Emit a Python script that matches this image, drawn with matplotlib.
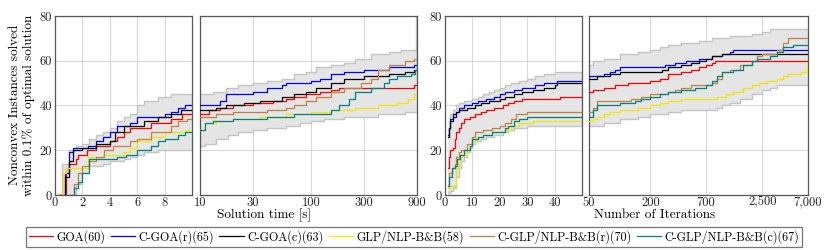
import numpy as np
import matplotlib
matplotlib.use("Agg")
import matplotlib.pyplot as plt
from matplotlib.lines import Line2D

plt.rcParams["font.family"] = ["cmr10", "DejaVu Serif"]
plt.rcParams["axes.formatter.use_mathtext"] = True

# ── data ──────────────────────────────────────────────────────────────────────
NAMES = ["GOA(60)", "C-GOA(r)(65)", "C-GOA(c)(63)", "GLP/NLP-B&B(58)",
         "C-GLP/NLP-B&B(r)(70)", "C-GLP/NLP-B&B(c)(67)"]
COLORS = ["#ff0000", "#0000ff", "#000000", "#f2e600", "#bf8040", "#008080"]

# panel 1: solution time 0-10 s
TIME_SHORT = {
    "GOA": ([0.2, 0.8, 1.0, 1.5, 1.7, 2.3, 3, 4, 4.5, 5, 5.5, 7, 8.5, 9.3, 10],
            [0, 12, 14, 16, 18, 20, 22, 24, 26, 28, 30, 32, 34, 36, 36]),
    "C-GOA(r)": ([0.4, 0.7, 1.0, 1.3, 2.4, 3, 3.5, 4, 4.5, 5.5, 6, 8, 8.5, 9, 9.5, 10],
                 [0, 10, 19, 21, 22, 24, 26, 28, 31, 32, 35, 36, 37, 39, 40, 40]),
    "C-GOA(c)": ([0.4, 0.7, 1.0, 1.3, 2, 3, 4, 4.4, 5, 6.5, 7.5, 8.5, 9.2, 10],
                 [0, 8, 15, 20, 21, 23, 24, 28, 31, 33, 35, 36, 38, 38]),
    "GLP": ([0.3, 0.6, 0.8, 2.2, 2.4, 3.5, 5, 5.5, 6, 7, 8, 9.5, 10],
            [0, 10, 12, 12, 17, 18, 19, 21, 24, 26, 28, 29, 29]),
    "C-GLP(r)": ([1.0, 1.4, 1.7, 2.0, 2.5, 3, 3.6, 4.2, 5.5, 6, 7, 8.5, 9, 9.6, 10],
                 [0, 5, 10, 13, 15, 17, 20, 22, 24, 25, 28, 31, 33, 34, 34]),
    "C-GLP(c)": ([1.1, 1.4, 1.7, 2.0, 2.5, 4.5, 5.2, 6, 7, 7.5, 8, 9, 9.5, 10],
                 [0, 3, 6, 10, 16, 17, 18, 20, 22, 24, 25, 27, 28, 28]),
}
TIME_SHORT_BAND = (
    [0.2, 0.5, 1.0, 1.5, 2, 2.5, 3, 3.5, 4, 4.5, 5, 5.5, 6, 6.5, 7.5, 8.5, 10],
    [0, 14, 20, 22, 23, 25, 27, 28, 30, 33, 35, 36, 40, 42, 44, 45, 45],   # upper
    [0, 0, 0, 5, 10, 13, 13, 14, 15, 15, 16, 17, 18, 19, 20, 20, 20],      # lower
)

# panel 2: solution time 10-900 s
TIME_LONG = {
    "GOA": ([10, 12, 15, 20, 30, 45, 60, 70, 90, 120, 150, 180, 850, 900],
            [36, 38, 39, 40, 41, 42, 43, 44, 45, 46, 47, 48, 49, 49]),
    "C-GOA(r)": ([10, 15, 17, 30, 40, 55, 60, 100, 120, 150, 200, 300, 500, 850, 900],
                 [40, 42, 45, 46, 48, 49, 50, 51, 52, 54, 55, 56, 57, 58, 58]),
    "C-GOA(c)": ([10, 14, 17, 25, 35, 55, 70, 90, 110, 150, 200, 300, 500, 700, 850, 900],
                 [38, 39, 40, 41, 42, 44, 45, 46, 48, 50, 52, 53, 54, 55, 56, 56]),
    "GLP": ([10, 11, 14, 20, 35, 60, 100, 150, 250, 400, 600, 750, 850, 900],
            [29, 32, 33, 34, 35, 36, 37, 38, 39, 40, 41, 43, 45, 45]),
    "C-GLP(r)": ([10, 14, 20, 40, 60, 70, 90, 110, 150, 200, 280, 350, 400, 500, 700, 850, 900],
                 [35, 36, 37, 38, 39, 40, 42, 44, 46, 48, 50, 52, 56, 58, 60, 61, 61]),
    "C-GLP(c)": ([10, 11, 13, 20, 40, 70, 150, 180, 220, 250, 350, 450, 500, 600, 800, 870, 895, 900],
                 [29, 32, 33, 34, 35, 36, 38, 40, 43, 46, 48, 50, 52, 53, 54, 56, 66, 66]),
}
TIME_LONG_BAND = (
    [10, 11, 13, 14, 17, 18, 22, 30, 40, 55, 60, 70, 80, 90, 100, 110, 130, 150, 200,
     250, 350, 400, 500, 650, 700, 890, 900],
    [45, 45, 46, 46, 48, 48, 49, 50, 51, 52, 52, 54, 54, 55, 55, 57, 57, 58, 59,
     61, 63, 63, 64, 65, 65, 80, 80],
    [22, 23, 23, 25, 25, 27, 28, 29, 30, 30, 31, 31, 32, 32, 33, 33, 34, 34, 35,
     35, 35, 36, 36, 36, 37, 37, 37],
)

# panel 3: iterations 0-50
ITER_SHORT = {
    "GOA": ([1, 1.5, 2, 3, 3.5, 4, 5, 6, 7, 9, 11, 13, 15, 18, 21, 23, 25, 28, 42, 50],
            [12, 17, 20, 21, 25, 28, 30, 32, 34, 35, 36, 37, 38, 39, 40, 41, 42, 43, 44, 44]),
    "C-GOA(r)": ([1, 1.5, 2, 3, 4, 5, 7, 10, 12, 15, 18, 20, 22, 25, 28, 33, 36, 41, 50],
                 [27, 30, 34, 35, 37, 39, 40, 41, 42, 43, 44, 45, 46, 47, 48, 49, 50, 51, 51]),
    "C-GOA(c)": ([1, 1.5, 2, 3, 4, 5, 8, 11, 13, 16, 20, 22, 25, 28, 32, 36, 40, 41, 50],
                 [26, 30, 33, 36, 37, 38, 39, 40, 41, 42, 43, 44, 45, 46, 47, 48, 49, 50, 50]),
    "GLP": ([1, 2, 3.5, 4, 5, 6, 8, 9, 10, 12, 14, 17, 22, 24, 27, 32, 50],
            [3, 4, 4, 12, 16, 18, 20, 22, 24, 26, 27, 28, 29, 31, 32, 33, 33]),
    "C-GLP(r)": ([1, 1.5, 2.5, 3.5, 4, 5, 6, 8, 10, 11, 14, 17, 20, 22, 24, 26, 30, 50],
                 [4, 10, 12, 14, 17, 19, 20, 23, 26, 28, 29, 30, 31, 32, 34, 36, 37, 37]),
    "C-GLP(c)": ([1, 1.5, 2.5, 3.5, 4.5, 5.5, 7, 9, 10, 12, 14, 17, 22, 23, 25, 27, 30, 50],
                 [4, 8, 12, 13, 16, 18, 20, 22, 25, 26, 27, 28, 30, 31, 33, 34, 35, 35]),
}
ITER_SHORT_BAND = (
    [1, 2, 3, 4, 5, 6, 7, 8, 9, 10, 11, 12, 13, 14, 15, 16, 18, 20, 21, 22, 23, 24,
     25, 27, 30, 33, 36, 40, 50],
    [29, 36, 38, 40, 41, 41, 42, 42, 42, 43, 43, 44, 44, 45, 45, 46, 47, 48, 48, 49, 49, 50,
     50, 51, 52, 53, 54, 55, 55],
    [1, 2, 3, 8, 12, 15, 17, 19, 21, 23, 24, 24, 25, 25, 26, 26, 27, 27, 28, 28, 29, 29,
     30, 30, 31, 31, 31, 31, 31],
)

# panel 4: iterations 50-7000
ITER_LONG = {
    "GOA": ([50, 55, 70, 90, 120, 200, 250, 300, 400, 500, 600, 700, 800, 850, 7000],
            [46, 47, 48, 49, 50, 51, 52, 54, 55, 56, 57, 58, 59, 60, 60]),
    "C-GOA(r)": ([50, 70, 80, 90, 100, 280, 350, 450, 600, 800, 1000, 1200, 1300, 7000],
                 [53, 54, 55, 56, 57, 58, 59, 60, 61, 62, 63, 64, 65, 65]),
    "C-GOA(c)": ([50, 60, 80, 100, 260, 300, 400, 500, 600, 700, 800, 1000, 7000],
                 [52, 53, 54, 55, 56, 57, 58, 59, 60, 61, 62, 63, 63]),
    "GLP": ([50, 55, 60, 70, 80, 100, 150, 200, 250, 300, 400, 900, 1100, 1300, 1600,
             2000, 2300, 2800, 3500, 4000, 4500, 6000, 6800, 7000],
            [33, 34, 35, 36, 37, 38, 39, 40, 41, 42, 43, 44, 45, 46, 48,
             49, 50, 51, 52, 53, 54, 55, 58, 58]),
    "C-GLP(r)": ([50, 55, 60, 130, 160, 200, 300, 350, 400, 500, 800, 900, 1000, 1200,
                  1500, 2000, 2200, 2500, 3500, 4000, 4500, 7000],
                 [37, 39, 42, 43, 44, 45, 46, 47, 48, 49, 50, 52, 55, 56,
                  58, 60, 62, 63, 65, 68, 70, 70]),
    "C-GLP(c)": ([50, 55, 60, 100, 140, 160, 200, 250, 300, 400, 550, 700, 800, 900, 1000,
                  1300, 1600, 2000, 2200, 3000, 3500, 4000, 5000, 7000],
                 [35, 38, 40, 41, 42, 43, 44, 45, 46, 47, 48, 49, 51, 53, 55,
                  56, 58, 60, 61, 62, 64, 66, 67, 67]),
}
ITER_LONG_BAND = (
    [50, 55, 70, 100, 150, 200, 250, 300, 400, 600, 800, 900, 1000, 1200, 1500, 2000,
     2500, 3000, 3500, 7000],
    [58, 60, 61, 63, 64, 65, 66, 67, 68, 69, 70, 70, 70, 71, 71, 72, 73, 74, 74, 74],
    [31, 31, 32, 34, 35, 36, 36, 37, 38, 38, 38, 39, 40, 41, 43, 45, 47, 48, 49, 49],
)

PANELS = [
    (TIME_SHORT, TIME_SHORT_BAND, (0, 10), "linear", [0, 2, 4, 6, 8], ["0", "2", "4", "6", "8"]),
    (TIME_LONG, TIME_LONG_BAND, (10, 900), "log", [10, 30, 100, 300, 900],
     ["10", "30", "100", "300", "900"]),
    (ITER_SHORT, ITER_SHORT_BAND, (0, 50), "linear", [0, 10, 20, 30, 40],
     ["0", "10", "20", "30", "40"]),
    (ITER_LONG, ITER_LONG_BAND, (50, 7000), "log", [50, 200, 700, 2500, 7000],
     ["50", "200", "700", "2,500", "7,000"]),
]

# ── layout ────────────────────────────────────────────────────────────────────
W, H = 831, 250
BOXES = [(55, 137), (200, 217), (445, 137), (589, 219)]   # left, width in px
TOP, BOTTOM = 16, 195

fig = plt.figure(figsize=(W / 100, H / 100), dpi=100)
fig.patch.set_facecolor("white")

for i, ((series, band, xlim, scale, ticks, labels), (left, width)) in enumerate(zip(PANELS, BOXES)):
    ax = fig.add_axes([left / W, (H - BOTTOM) / H, width / W, (BOTTOM - TOP) / H])
    ax.set_xscale(scale)
    ax.set_xlim(*xlim)
    ax.set_ylim(0, 80)

    bx, bhi, blo = band
    ax.fill_between(bx, blo, bhi, step="post", color="#e5e5e5", lw=0, zorder=1)
    ax.step(bx, bhi, where="post", color="#c4c4c4", lw=1.0, zorder=2)
    ax.step(bx, blo, where="post", color="#c4c4c4", lw=1.0, zorder=2)

    for (xs, ys), c in zip(series.values(), COLORS):
        ax.step(xs, ys, where="post", color=c, lw=0.9, zorder=3)

    ax.set_xticks(ticks)
    ax.set_xticklabels(labels)
    ax.xaxis.set_minor_locator(matplotlib.ticker.NullLocator())
    ax.set_yticks([0, 20, 40, 60, 80])
    if i in (0, 2):
        ax.set_yticklabels(["0", "20", "40", "60", "80"])
    else:
        ax.set_yticklabels([])
    ax.tick_params(length=0, labelsize=9, colors="#222222")
    ax.tick_params(axis="x", pad=1)
    ax.tick_params(axis="y", pad=2)
    ax.grid(True, color="#d9d9d9", lw=0.8, zorder=0)
    ax.set_axisbelow(True)
    for s in ax.spines.values():
        s.set_color("#555555")
        s.set_linewidth(0.9)

fig.text(22 / W, 1 - 105 / H, "Nonconvex Instances solved\nwithin 0.1% of optimal solution",
         rotation=90, ha="center", va="center", fontsize=9.5, linespacing=1.05)
fig.text(264 / W, 1 - 215 / H, "Solution time [s]", ha="center", va="center", fontsize=9.5)
fig.text(655 / W, 1 - 215 / H, "Number of Iterations", ha="center", va="center", fontsize=9.5)

handles = [Line2D([], [], color=c, lw=0.9) for c in COLORS]
leg = fig.legend(handles, NAMES, loc="center", ncol=6, bbox_to_anchor=(414 / W, 1 - 237 / H),
                 frameon=True, fancybox=False, fontsize=8.7, handlelength=2.0,
                 handletextpad=0.3, columnspacing=0.45, borderpad=0.25)
leg.get_frame().set_edgecolor("#555555")
leg.get_frame().set_linewidth(0.9)

fig.savefig("out.png", dpi=100)
